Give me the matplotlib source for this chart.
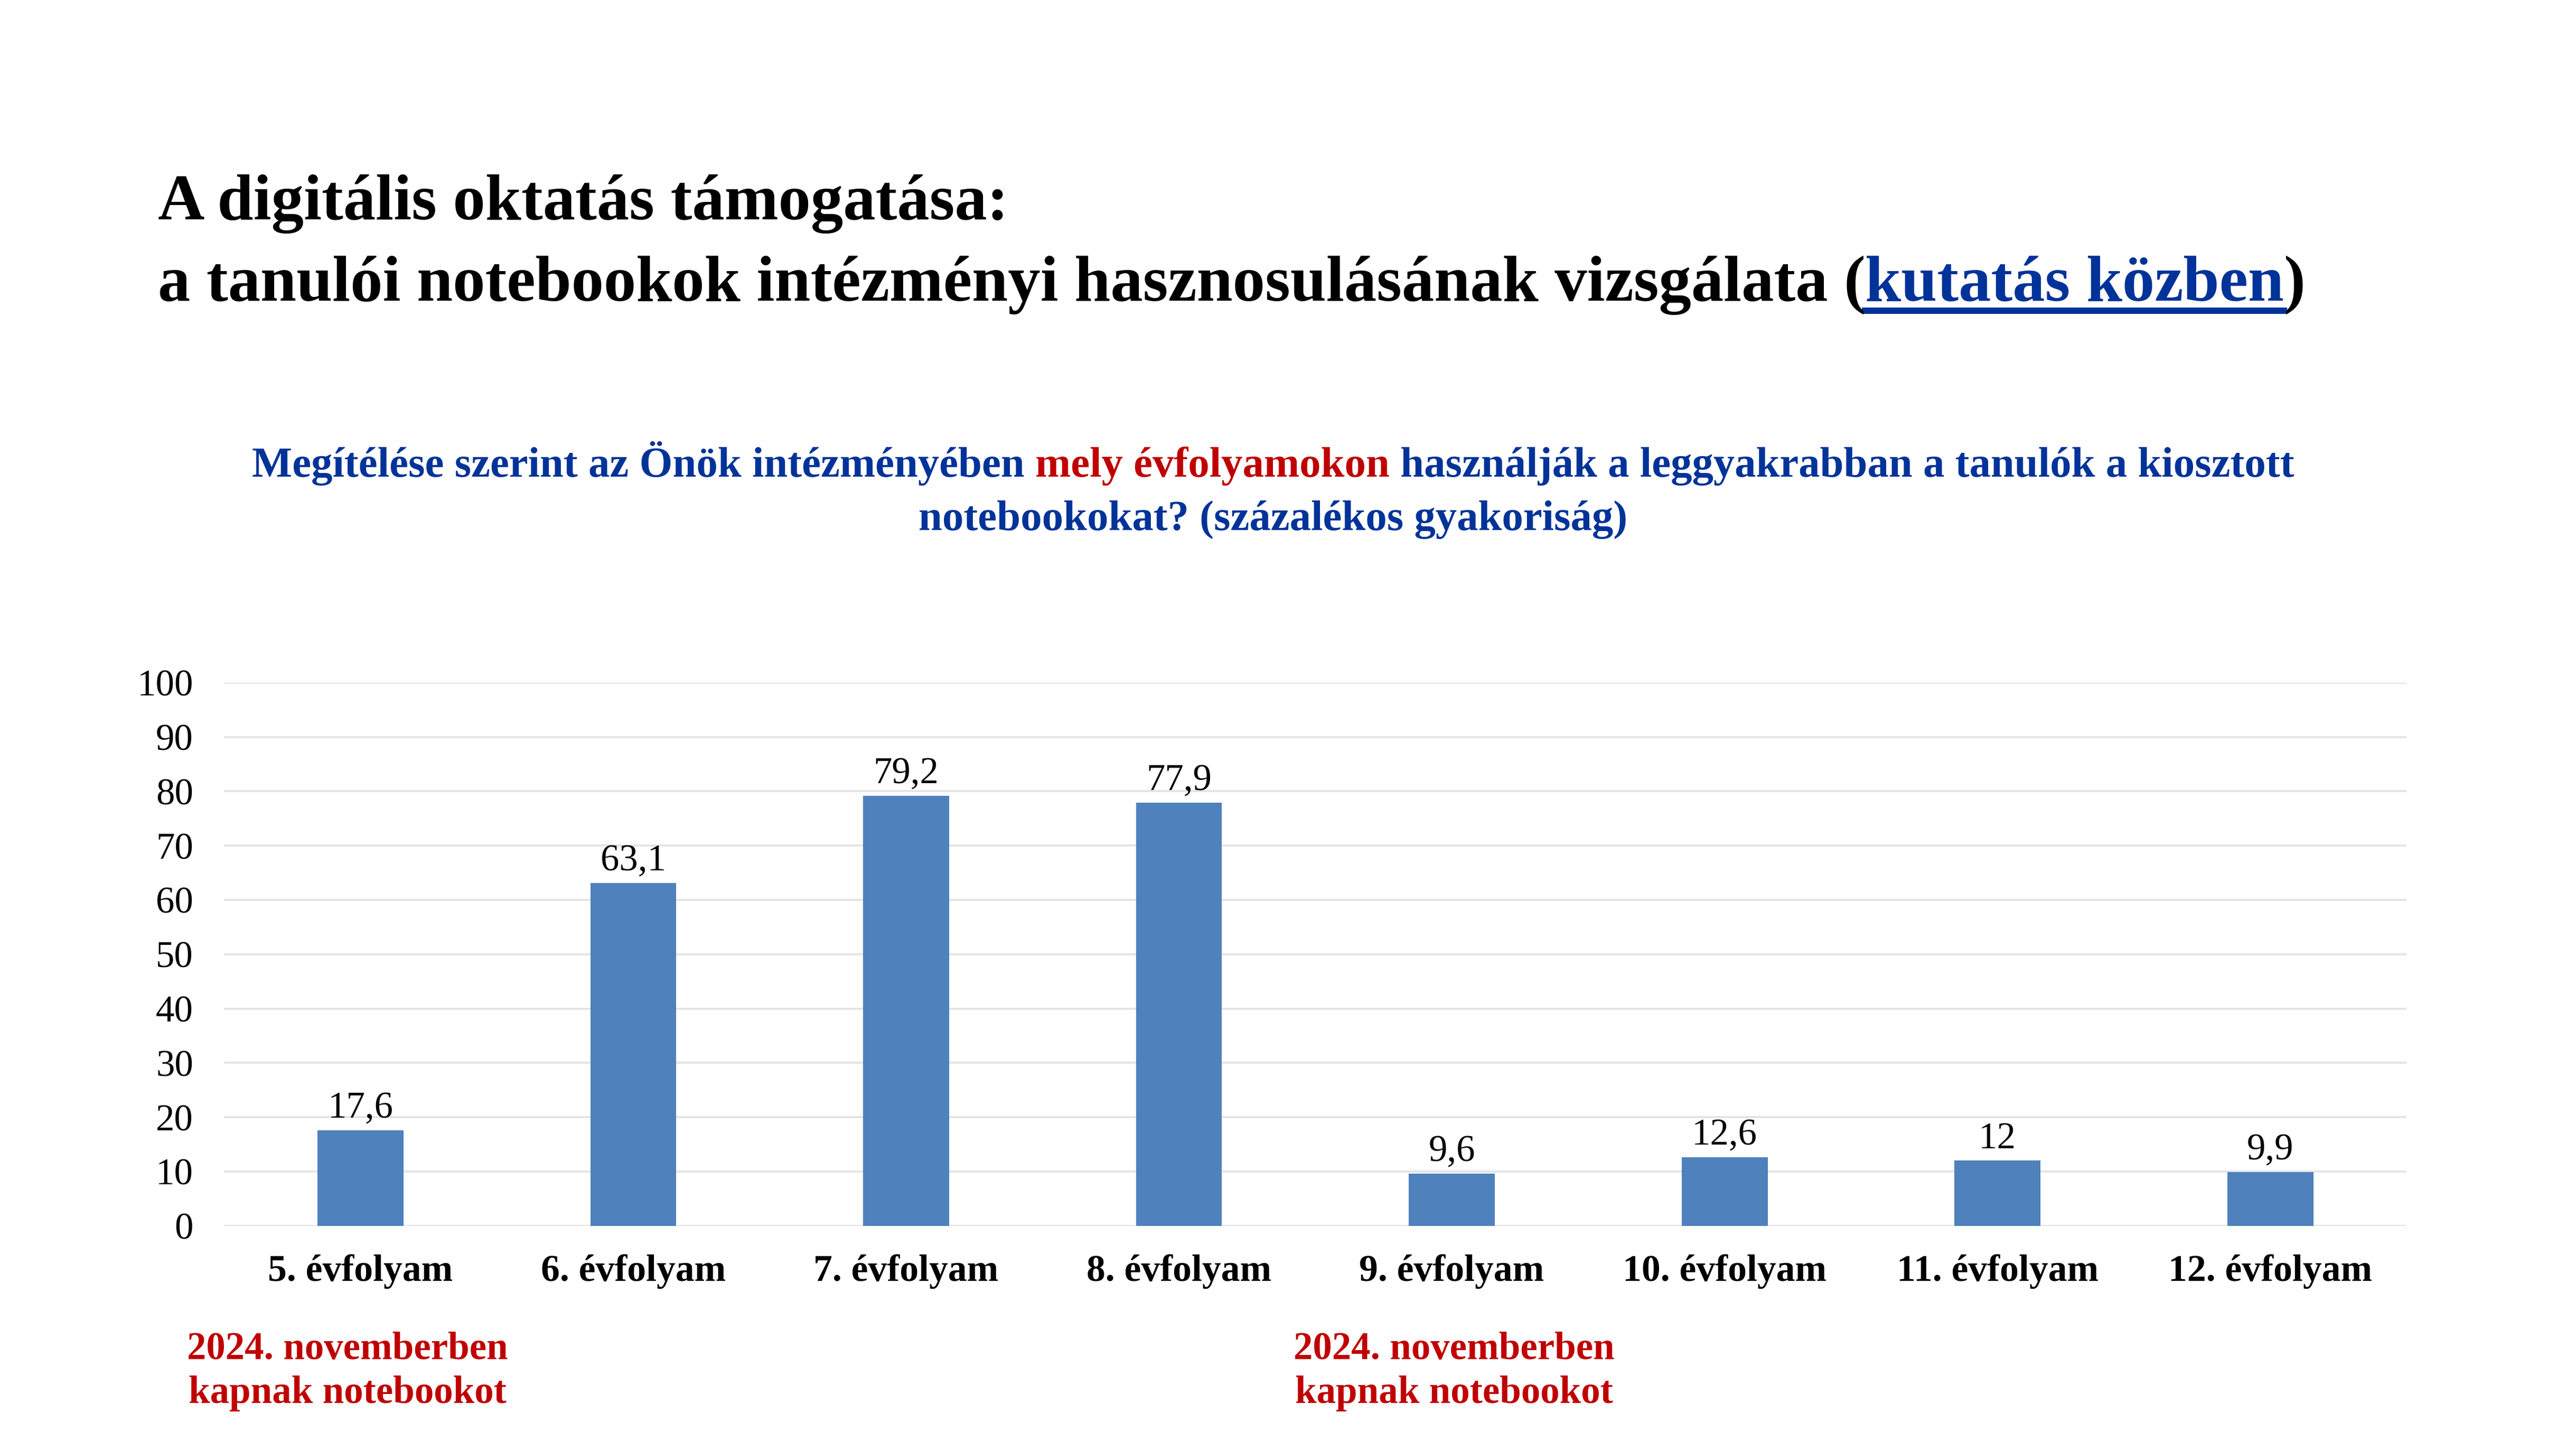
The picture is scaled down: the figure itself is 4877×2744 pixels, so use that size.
import matplotlib
matplotlib.use('Agg')
import matplotlib.pyplot as plt
from matplotlib.lines import Line2D

categories = ['5. évfolyam', '6. évfolyam', '7. évfolyam', '8. évfolyam',
              '9. évfolyam', '10. évfolyam', '11. évfolyam', '12. évfolyam']
values = [17.6, 63.1, 79.2, 77.9, 9.6, 12.6, 12, 9.9]
value_labels = ['17,6', '63,1', '79,2', '77,9', '9,6', '12,6', '12', '9,9']
note_text = '2024. novemberben\nkapnak notebookot'
note_categories = [0, 4]
note_shift = [-6, 1]  # points, horizontal nudge of each note

BLUE = '#003399'
RED = '#C00000'
BAR = '#4F81BD'

plt.rcParams['font.family'] = ['Liberation Serif', 'DejaVu Serif']

W, H = 1552, 873  # layout reference units


def fx(x):
    return x / W


def fy(y):
    return 1 - y / H


fig = plt.figure(figsize=(4877 / 300, 2744 / 300), dpi=300)
renderer = fig.canvas.get_renderer()


def rich_line(parts, x, y, size, ha='left'):
    """Draw text pieces with different colours on one baseline."""
    texts = []
    widths = []
    for s, color, underline in parts:
        t = fig.text(0, fy(y), s, color=color, fontsize=size, fontweight='bold',
                     va='baseline', ha='left')
        bb = t.get_window_extent(renderer)
        texts.append(t)
        widths.append(bb.width / fig.bbox.width)
    total = sum(widths)
    cur = fx(x) - (total / 2 if ha == 'center' else 0)
    for t, w, (s, color, underline) in zip(texts, widths, parts):
        t.set_x(cur)
        if underline:
            uy = fy(y) - 0.007
            fig.add_artist(Line2D([cur, cur + w], [uy, uy], color=color, lw=2.9,
                                  transform=fig.transFigure))
        cur += w


# title
fig.text(fx(95), fy(132), 'A digitális oktatás támogatása:', fontsize=29.4,
         fontweight='bold', color='black', va='baseline', ha='left')
rich_line([('a tanulói notebookok intézményi hasznosulásának vizsgálata (', 'black', False),
           ('kutatás közben', BLUE, True),
           (')', 'black', False)], 95, 181, 29.4)

# subtitle
rich_line([('Megítélése szerint az Önök intézményében ', BLUE, False),
           ('mely évfolyamokon', RED, False),
           (' használják a leggyakrabban a tanulók a kiosztott', BLUE, False)],
          767, 287, 19.4, ha='center')
fig.text(fx(767), fy(319), 'notebookokat? (százalékos gyakoriság)', fontsize=19.4,
         fontweight='bold', color=BLUE, va='baseline', ha='center')

# chart
ax = fig.add_axes([fx(135), fy(738), fx(1450) - fx(135), fy(411) - fy(738)])
x = list(range(len(categories)))
bars = ax.bar(x, values, width=0.315, color=BAR, zorder=3)
ax.bar_label(bars, labels=value_labels, padding=2, fontsize=17, color='black')
ax.set_xlim(-0.5, len(categories) - 0.5)
ax.set_ylim(0, 100)
ax.set_yticks(range(0, 101, 10))
ax.yaxis.grid(True, color='#E3E3E3', lw=0.9, zorder=0)
ax.set_axisbelow(True)
for s in ax.spines.values():
    s.set_visible(False)
ax.tick_params(axis='both', length=0)
ax.tick_params(axis='y', labelsize=17, pad=14)
ax.tick_params(axis='x', pad=13)
ax.set_xticks(x)
ax.set_xticklabels(categories, fontsize=17.2, fontweight='bold')

# notes under selected categories
for ci, dx in zip(note_categories, note_shift):
    ax.annotate(note_text, xy=(ci, 0), xycoords='data', xytext=(dx, -48),
                textcoords='offset points', ha='center', va='top',
                fontsize=17.5, fontweight='bold', color=RED, linespacing=1.3)

fig.savefig('out.png', dpi=300, facecolor='white')
